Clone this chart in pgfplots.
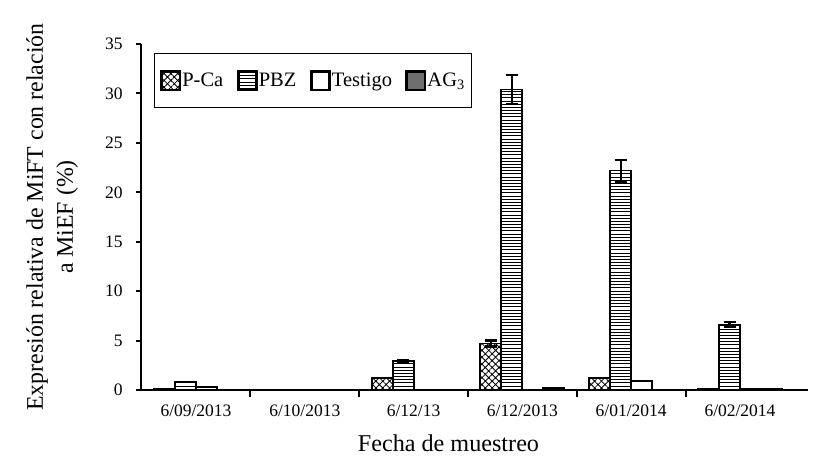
\documentclass[border=0pt]{standalone}
\usepackage{fontspec}
\setmainfont{Liberation Serif}
\usepackage{pgfplots}
\usepackage{pgfplotstable}
\pgfplotsset{compat=1.18}
\usetikzlibrary{patterns,patterns.meta,calc}
\definecolor{agris}{RGB}{110,110,112}

% horizontal lines, fine spacing
\pgfdeclarepatternformonly{hlineas}{\pgfqpoint{-1pt}{0pt}}{\pgfqpoint{21pt}{1.9pt}}{\pgfqpoint{20pt}{1.9pt}}{%
 \pgfsetlinewidth{0.6pt}%
 \pgfpathmoveto{\pgfqpoint{-1pt}{0.95pt}}%
 \pgfpathlineto{\pgfqpoint{21pt}{0.95pt}}%
 \pgfusepath{stroke}}

% x = fecha (0..5), y = valor, e = error
\pgfplotstableread{
x y e
0 0.10 0
1 0 0
2 1.18 0
3 4.70 0.30
4 1.18 0
5 0.06 0
}\pca
\pgfplotstableread{
x y e
0 0.78 0
1 0 0
2 2.93 0.10
3 30.4 1.45
4 22.2 1.10
5 6.60 0.25
}\pbz
\pgfplotstableread{
x y e
0 0.27 0
1 0 0
2 0 0
3 0 0
4 0.88 0
5 0.06 0
}\testigo
\pgfplotstableread{
x y e
0 0 0
1 0 0
2 0 0
3 0.20 0
4 0 0
5 0.06 0
}\agtres

\begin{document}
\begin{tikzpicture}
\begin{axis}[
 name=ax,
 scale only axis,
 width=400.2pt,height=207.6pt,
 ybar=0pt,bar width=12.6pt,
 xmin=-0.5055,xmax=5.625,
 ymin=0,ymax=35,
 axis on top,
 axis x line=bottom,axis y line=left,
 axis line style={-,line width=1.6pt},
 tick align=outside,
 xtick={0,...,5},
 xticklabels={6/09/2013,6/10/2013,6/12/13,6/12/2013,6/01/2014,6/02/2014},
 minor xtick={0.5,1.5,2.5,3.5,4.5},
 major x tick style={draw=none},
 minor tick style={line width=1.2pt,black},
 ytick style={line width=1.2pt,black},
 major tick length=3pt,minor tick length=4pt,
 ytick={0,5,...,35},
 /pgf/number format/assume math mode=true,
 xticklabel style={font=\fontsize{10.5}{12}\selectfont,yshift=-2.5pt},
 yticklabel style={font=\fontsize{10.5}{12}\selectfont,xshift=-4.5pt},
 xlabel={Fecha de muestreo},
 xlabel style={font=\fontsize{14.5}{17}\selectfont,at={(axis description cs:0.461,-0.128)},anchor=north,inner sep=0pt},
 ylabel={Expresión relativa de MiFT con relación\\a MiEF (\%)},
 ylabel style={font=\fontsize{14.3}{18}\selectfont,align=center,at={(axis description cs:-0.094,0.5)},anchor=south,inner sep=0pt},
 error bars/y dir=both,error bars/y explicit,
 error bars/error bar style={line width=1.3pt,black},
 error bars/error mark options={rotate=90,mark size=3.6pt,line width=1.3pt,black},
 legend columns=4,
 legend style={at={(0.0195,0.974)},anchor=north west,draw=black,line width=0.6pt,
   font=\fontsize{12.3}{14}\selectfont,inner xsep=3.5pt,inner ysep=10pt,column sep=0pt,
   nodes={inner xsep=0.6pt,inner ysep=1pt},
   /tikz/every even column/.append style={column sep=7.5pt}},
 legend image code/.code={\draw[#1,line width=1.6pt] (0pt,-5.5pt) rectangle (11pt,5.5pt);},
]
\addplot[draw=black,line width=1.1pt,pattern={Hatch[angle=45,distance=2.9pt,line width=0.5pt]}]
 table[x=x,y=y,y error=e]{\pca};
\addplot[draw=black,line width=1.1pt,pattern=hlineas]
 table[x=x,y=y,y error=e]{\pbz};
\addplot[draw=black,line width=1.1pt,fill=white]
 table[x=x,y=y,y error=e]{\testigo};
\addplot[draw=black,line width=1.1pt,fill=agris]
 table[x=x,y=y,y error=e]{\agtres};
\legend{P-Ca,PBZ,Testigo,AG\textsubscript{3}}
\end{axis}
\path ($(ax.south west)+(-84.6pt,-48pt)$) rectangle ($(ax.north east)+(13.8pt,26.4pt)$);
\end{tikzpicture}
\end{document}
